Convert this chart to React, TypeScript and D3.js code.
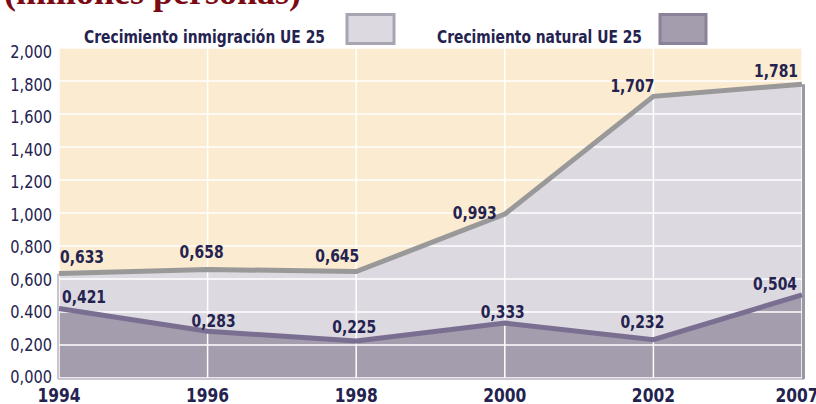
import React from 'react';
import * as d3 from 'd3';

// valores en millones de personas
const years = ['1994', '1996', '1998', '2000', '2002', '2007'];
const inmigracion = [0.633, 0.658, 0.645, 0.993, 1.707, 1.781];
const natural = [0.421, 0.283, 0.225, 0.333, 0.232, 0.504];
const yTicks = [0, 0.2, 0.4, 0.6, 0.8, 1.0, 1.2, 1.4, 1.6, 1.8, 2.0];
const yTickLabels = ['0,000', '0,200', '0.400', '0,600', '0,800', '1,000', '1,200', '1,400', '1,600', '1,800', '2,000'];
const title = '(millones personas)';
const legendNames = ['Crecimiento inmigración UE 25', 'Crecimiento natural UE 25'];

// colocación de las etiquetas de valor: [anchor, dx, dy]
const inmLabelPos: [string, number, number][] = [
  ['start', 1, -11], ['middle', -6, -11], ['middle', -19, -10],
  ['end', -8, 5], ['end', 1, -4], ['end', -4, -7],
];
const natLabelPos: [string, number, number][] = [
  ['start', 3, -6], ['middle', 6, -4], ['middle', -2, -8],
  ['middle', -2, -5], ['middle', -11, -12], ['end', -5, -5],
];

const W = 816, H = 404;
const left = 59, right = 802, top = 48, bottom = 378;

const COND = '"DejaVu Sans Condensed", "DejaVu Sans", sans-serif';
const NAVY = '#24224f';

const fmt = (v: number) => v.toFixed(3).replace('.', ',');

// texto estrechado horizontalmente (la fuente original es condensada)
function CText(props: any) {
  const { x, y, sx, children, ...rest } = props;
  return (
    <text transform={`translate(${x},${y}) scale(${sx},1)`} fontFamily={COND} fill={NAVY} {...rest}>
      {children}
    </text>
  );
}

export default function App() {
  const x = d3.scalePoint<string>().domain(years).range([left, right]);
  const y = d3.scaleLinear().domain([0, 2]).range([bottom, top]);

  const area = d3.area<number>()
    .x((d, i) => x(years[i]) as number)
    .y0(bottom)
    .y1(d => y(d));
  const line = d3.line<number>()
    .x((d, i) => x(years[i]) as number)
    .y(d => y(d));

  const labels = (vals: number[], pos: [string, number, number][]) =>
    vals.map((v, i) => (
      <CText key={i} x={(x(years[i]) as number) + pos[i][1]} y={y(v) + pos[i][2]} sx={0.86}
        textAnchor={pos[i][0]} fontWeight="bold" fontSize={18}>{fmt(v)}</CText>
    ));

  return (
    <svg width={W} height={H} style={{ position: 'absolute', left: 0, top: 0, background: '#fff' }}>
      <text x={4} y={4} fontFamily='"Liberation Serif", "DejaVu Serif", serif' fontWeight="bold"
        fontSize={36} fill="#7a0a14">{title}</text>

      {/* leyenda */}
      <text x={84} y={43} fontFamily={COND} fontWeight="bold" fontSize={17.5} fill={NAVY}
        textLength={241} lengthAdjust="spacingAndGlyphs">{legendNames[0]}</text>
      <rect x={347} y={14.5} width={47} height={29} fill="#dcd9e1" stroke="#a8a4b2" strokeWidth={3} />
      <text x={437} y={43} fontFamily={COND} fontWeight="bold" fontSize={17.5} fill={NAVY}
        textLength={205} lengthAdjust="spacingAndGlyphs">{legendNames[1]}</text>
      <rect x={660} y={14.5} width={46} height={29} fill="#a39dae" stroke="#8a8298" strokeWidth={3} />

      {/* fondo */}
      <rect x={left} y={top} width={right - left} height={bottom - top} fill="#fbebd0" />
      <path d={area(inmigracion) || ''} fill="#dcd9e1" />
      <path d={area(natural) || ''} fill="#a39dae" />

      {/* rejilla */}
      {yTicks.map((t, i) => (
        <line key={'h' + i} x1={left} x2={right} y1={y(t)} y2={y(t)} stroke="#fff" strokeWidth={1.5} />
      ))}
      {years.map((yr, i) => (
        <line key={'v' + i} x1={x(yr)} x2={x(yr)} y1={top} y2={bottom} stroke="#fff" strokeWidth={1.5} />
      ))}

      {/* bordes */}
      <line x1={left - 1} x2={left - 1} y1={y(inmigracion[0])} y2={bottom + 1} stroke="#c9c6cf" strokeWidth={2} />
      <line x1={left - 1} x2={right + 2} y1={bottom + 1} y2={bottom + 1} stroke="#c9c6cf" strokeWidth={2} />
      <line x1={right + 1.5} x2={right + 1.5} y1={y(inmigracion[5])} y2={bottom + 1} stroke="#9b97a3" strokeWidth={3} />

      <path d={line(inmigracion) || ''} fill="none" stroke="#999999" strokeWidth={5} />
      <path d={line(natural) || ''} fill="none" stroke="#7b6f91" strokeWidth={5} />

      {labels(inmigracion, inmLabelPos)}
      {labels(natural, natLabelPos)}

      {/* eje y */}
      {yTicks.map((t, i) => (
        <CText key={'yl' + i} x={52} y={y(t) + 5 + i * 0.5} sx={0.9} textAnchor="end"
          fontSize={18}>{yTickLabels[i]}</CText>
      ))}
      {/* eje x */}
      {years.map((yr, i) => (
        <CText key={'xl' + i} x={(x(yr) as number) + (i === years.length - 1 ? -5 : 0)} y={402} sx={0.86}
          textAnchor="middle" fontWeight="bold" fontSize={20}>{yr}</CText>
      ))}
    </svg>
  );
}
